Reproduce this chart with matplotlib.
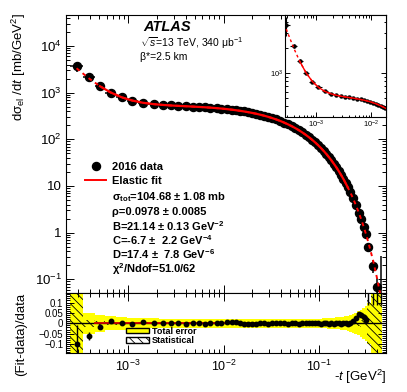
import matplotlib
matplotlib.use("Agg")
import matplotlib.pyplot as plt
import numpy as np
from matplotlib.lines import Line2D
from matplotlib.patches import Rectangle
from matplotlib.ticker import LogLocator, NullFormatter, FixedLocator, FixedFormatter, MultipleLocator

plt.rcParams["font.family"] = ["Liberation Sans", "DejaVu Sans"]
plt.rcParams["mathtext.fontset"] = "custom"
plt.rcParams["mathtext.rm"] = "Liberation Sans"
plt.rcParams["mathtext.it"] = "Liberation Sans:italic"
plt.rcParams["mathtext.bf"] = "Liberation Sans:bold"
plt.rcParams["hatch.linewidth"] = 0.6

# -t bin centres [GeV^2]
t = [2.9e-4, 3.94e-4, 5.1e-4, 6.6e-4, 8.6e-4, 1.11e-3, 1.43e-3, 1.87e-3, 2.34e-3, 2.80e-3,
     3.36e-3, 4.02e-3, 4.76e-3, 5.57e-3, 6.4e-3, 7.3e-3, 8.5e-3, 9.5e-3, 1.09e-2, 1.22e-2,
     1.34e-2, 1.48e-2, 1.63e-2, 1.8e-2, 1.97e-2, 2.19e-2, 2.41e-2, 2.65e-2, 2.9e-2, 3.2e-2,
     3.54e-2, 3.9e-2, 4.28e-2, 4.7e-2, 0.0515, 0.0562, 0.0612, 0.0665, 0.072, 0.078,
     0.084, 0.0905, 0.097, 0.104, 0.111, 0.1185, 0.126, 0.134, 0.142, 0.151,
     0.160, 0.169, 0.179, 0.189, 0.199, 0.211, 0.225, 0.240, 0.258, 0.273,
     0.291, 0.308, 0.328, 0.368, 0.405, 0.44]

# measured dsigma/dt [mb/GeV^2]
dsig = [3690, 2120, 1393, 997, 792, 677, 605, 566, 543, 531,
        520, 513, 501, 493, 486, 477, 464, 456, 441, 429,
        419, 407, 397, 383, 370, 354, 337, 321, 305, 286,
        267, 247, 229, 210, 191, 174, 157, 141, 126, 111,
        98.4, 86.0, 75.4, 65.6, 56.8, 48.7, 42.0, 35.6, 30.3, 25.2,
        20.9, 17.4, 14.2, 11.5, 9.38, 7.38, 5.49, 3.96, 2.65, 1.94,
        1.33, 0.93, 0.496, 0.195, 0.070, 0.027]

# elastic fit evaluated at the bin centres
fit = [3326, 1993, 1371, 1008, 794, 676, 607, 566, 544, 531,
       520, 511, 502, 493.5, 485, 476.6, 465, 455.5, 442.6, 431,
       420, 408, 395.7, 382, 369, 353, 337, 321, 304.7, 286.4,
       267, 248, 229, 210, 191.6, 174, 157, 140.7, 125.7, 111.2,
       98.4, 86.2, 75.5, 65.5, 56.8, 48.8, 41.9, 35.6, 30.2, 25.2,
       20.9, 17.4, 14.2, 11.5, 9.37, 7.40, 5.54, 4.05, 2.77, 2.02,
       1.37, 0.945, 0.605, 0.244, 0.101, 0.0425]

# (fit-data)/data and its error
resid = [-0.100, -0.060, -0.016, 0.011, 0.003, -0.001, 0.004, 0.000, 0.001, 0.000,
         0.001, -0.004, 0.002, 0.001, -0.001, 0.000, 0.001, 0.000, 0.004, 0.005,
         0.004, 0.002, -0.002, -0.003, -0.002, -0.003, 0.000, 0.001, -0.002, 0.001,
         0.000, 0.002, 0.000, -0.001, 0.001, 0.000, -0.002, 0.001, 0.000, 0.002,
         0.000, 0.003, 0.001, -0.001, 0.000, 0.002, -0.002, 0.000, -0.003, 0.001,
         0.000, -0.002, 0.001, 0.000, -0.001, 0.002, 0.010, 0.024, 0.045, 0.040,
         0.032, 0.016, 0.22, 0.25, 0.44, 0.57]
resid_err = [0.09, 0.02, 0.012, 0.008, 0.006, 0.005, 0.004, 0.003, 0.003, 0.003,
             0.003, 0.003, 0.003, 0.003, 0.003, 0.003, 0.003, 0.003, 0.003, 0.003,
             0.003, 0.003, 0.003, 0.003, 0.003, 0.003, 0.003, 0.003, 0.003, 0.003,
             0.003, 0.003, 0.003, 0.003, 0.003, 0.003, 0.003, 0.003, 0.003, 0.003,
             0.003, 0.003, 0.003, 0.003, 0.003, 0.003, 0.003, 0.003, 0.003, 0.003,
             0.003, 0.003, 0.003, 0.004, 0.004, 0.005, 0.006, 0.008, 0.010, 0.012,
             0.015, 0.020, 0.13, 0.16, 0.35, 0.48]

# relative total and statistical uncertainty of the data
err_total = [0.25, 0.052, 0.040, 0.034, 0.030, 0.027, 0.025, 0.024, 0.023, 0.022,
             0.022, 0.022, 0.022, 0.022, 0.022, 0.022, 0.022, 0.022, 0.022, 0.022,
             0.022, 0.022, 0.022, 0.022, 0.022, 0.022, 0.022, 0.022, 0.022, 0.022,
             0.022, 0.022, 0.022, 0.022, 0.022, 0.022, 0.022, 0.022, 0.022, 0.022,
             0.022, 0.022, 0.023, 0.023, 0.024, 0.024, 0.025, 0.026, 0.027, 0.028,
             0.029, 0.030, 0.032, 0.034, 0.036, 0.040, 0.045, 0.052, 0.058, 0.065,
             0.075, 0.085, 0.10, 0.30, 0.5, 10.7]
err_stat = [0.5, 0.016, 0.010, 0.007, 0.006, 0.005, 0.005, 0.004, 0.004, 0.004,
            0.004, 0.004, 0.004, 0.004, 0.004, 0.004, 0.004, 0.004, 0.004, 0.004,
            0.004, 0.004, 0.004, 0.004, 0.004, 0.004, 0.004, 0.004, 0.004, 0.004,
            0.004, 0.004, 0.004, 0.004, 0.004, 0.004, 0.004, 0.004, 0.004, 0.004,
            0.004, 0.004, 0.004, 0.004, 0.004, 0.004, 0.004, 0.004, 0.004, 0.004,
            0.004, 0.004, 0.004, 0.005, 0.005, 0.006, 0.007, 0.009, 0.012, 0.016,
            0.022, 0.035, 0.12, 0.30, 0.5, 0.8]

fit_range = (4.5e-4, 0.2)

fit_params = [
    "σ$_{\\mathbf{tot}}$=104.68 ± 1.08 mb",
    "ρ=0.0978 ± 0.0085",
    "B=21.14 ± 0.13 GeV$^{\\mathbf{-2}}$",
    "C=-6.7 ±  2.2 GeV$^{\\mathbf{-4}}$",
    "D=17.4 ±  7.8 GeV$^{\\mathbf{-6}}$",
    "χ$^{\\mathbf{2}}$/Ndof=51.0/62",
]

t = np.array(t)
dsig = np.array(dsig)
fit = np.array(fit)
resid = np.array(resid)
err_total = np.array(err_total)
err_stat = np.array(err_stat)

# bin edges (geometric mid points between centres)
mids = np.sqrt(t[:-1] * t[1:])
edges = np.concatenate([[t[0] ** 2 / mids[0]], mids, [t[-1] ** 2 / mids[-1]]])
xerr = np.vstack([t - edges[:-1], edges[1:] - t])
yerr = np.vstack([np.minimum(err_total, 0.9) * dsig, err_total * dsig])
in_fit = (t >= fit_range[0]) & (t <= fit_range[1])

W, H = 407, 392
fig = plt.figure(figsize=(W / 100, H / 100), dpi=100)
ax = fig.add_axes([66 / W, 1 - 293 / H, 320 / W, 278 / H])
axr = fig.add_axes([66 / W, 1 - 353 / H, 320 / W, 60 / H], sharex=ax)
axi = fig.add_axes([285 / W, 1 - 117 / H, 101 / W, 102 / H])


def root_ticks(a, size, major=6, minor=3):
    a.tick_params(which="both", direction="in", top=True, right=True, width=0.7,
                  labelsize=size, colors="black")
    a.tick_params(which="major", length=major)
    a.tick_params(which="minor", length=minor)
    for s in a.spines.values():
        s.set_linewidth(0.8)


# ---- main panel
ax.plot(t, fit, color="red", lw=1.4, ls=(0, (2, 2)), zorder=3)
ax.plot(t[in_fit], fit[in_fit], color="red", lw=1.6, zorder=3)
ax.errorbar(t, dsig, yerr=yerr, xerr=xerr, fmt="o", color="black", ms=5.8,
            elinewidth=1.1, capsize=0, zorder=2)
ax.set_xscale("log")
ax.set_yscale("log")
ax.set_xlim(2.25e-4, 0.5)
ax.set_ylim(0.051, 4.6e4)
ax.yaxis.set_major_locator(FixedLocator([0.1, 1, 10, 100, 1e3, 1e4]))
ax.yaxis.set_major_formatter(FixedFormatter(["$10^{-1}$", "1", "10", "$10^{2}$", "$10^{3}$", "$10^{4}$"]))
ax.yaxis.set_minor_locator(LogLocator(subs=np.arange(2, 10), numticks=20))
ax.yaxis.set_minor_formatter(NullFormatter())
root_ticks(ax, 9.5)
ax.tick_params(axis="x", which="both", labelbottom=False)
ax.tick_params(axis="y", pad=3)
ax.set_ylabel("dσ$_{\\rm el}$ /d$t$ [mb/GeV$^{2}$]", fontsize=9.5, loc="top")
ax.yaxis.set_label_coords(-0.12, 1.007)

ax.text(0.241, 0.957, "ATLAS", transform=ax.transAxes, fontsize=10.5,
        fontweight="bold", fontstyle="italic", va="center")
ax.text(0.232, 0.899, "$\\sqrt{s}$=13 TeV, 340 μb$^{-1}$", transform=ax.transAxes,
        fontsize=7.5, va="center")
ax.text(0.232, 0.849, "β*=2.5 km", transform=ax.transAxes, fontsize=7.5, va="center")

h_data = Line2D([], [], marker="o", ls="none", color="black", ms=5.8)
h_fit = Line2D([], [], color="red", lw=1.4)
ax.legend([h_data, h_fit], ["2016 data", "Elastic fit"], loc="upper left",
          bbox_to_anchor=(0.06, 0.47), frameon=False, borderpad=0, borderaxespad=0,
          handlelength=1.9, handletextpad=0.5, labelspacing=0.3,
          prop={"size": 8, "weight": "bold"})
for i, s in enumerate(fit_params):
    ax.text(0.143, 0.344 - i * 0.0514, s, transform=ax.transAxes, fontsize=8,
            fontweight="bold", va="center")

# ---- inset
axi.plot(t, fit, color="red", lw=1.0, ls=(0, (2, 2)), zorder=3)
axi.plot(t[in_fit], fit[in_fit], color="red", lw=1.0, zorder=3)
axi.errorbar(t, dsig, yerr=yerr, xerr=xerr, fmt="o", color="black", ms=2.2,
             elinewidth=0.8, capsize=0, zorder=2)
axi.set_xscale("log")
axi.set_yscale("log")
axi.set_xlim(2.75e-4, 0.0185)
axi.set_ylim(300, 4900)
root_ticks(axi, 5.5, major=3.5, minor=1.8)
axi.tick_params(pad=1.5)

# ---- ratio panel
axr.stairs(err_total, edges, baseline=-err_total, fill=True, color="#ffff00", lw=0, zorder=1)
axr.stairs(err_stat, edges, baseline=-err_stat, fill=True, facecolor="none",
           edgecolor="black", hatch="\\\\\\\\", lw=0, zorder=1.5)
axr.axhline(0, color="black", lw=1.0, zorder=2)
axr.plot(fit_range, [0, 0], color="#cc0000", lw=1.3, zorder=2.5)
axr.errorbar(t, resid, yerr=resid_err, fmt="o", color="black", ms=3.2,
             elinewidth=1.0, capsize=0, zorder=3)
axr.set_ylim(-0.143, 0.146)
axr.yaxis.set_major_locator(FixedLocator([-0.1, -0.05, 0, 0.05, 0.1]))
axr.yaxis.set_major_formatter(FixedFormatter(["−0.1", "−0.05", "0", "0.05", "0.1"]))
axr.yaxis.set_minor_locator(MultipleLocator(0.01))
root_ticks(axr, 7.5, major=6, minor=3)
axr.tick_params(axis="y", labelsize=7, pad=2)
axr.tick_params(axis="x", labelsize=9, pad=4)
axr.set_ylabel("(Fit-data)/data", fontsize=9.5, loc="top")
axr.yaxis.set_label_coords(-0.12, 1.0)
axr.set_xlabel("-$t$ [GeV$^{2}$]", fontsize=9.5, loc="right")
axr.xaxis.set_label_coords(1.0, -0.25)

h_tot = Rectangle((0, 0), 1, 1, facecolor="#ffff00", edgecolor="black", lw=1.0)
h_stat = Rectangle((0, 0), 1, 1, facecolor="white", edgecolor="black", lw=1.0, hatch="\\\\\\\\")
axr.legend([h_tot, h_stat], ["Total error", "Statistical"], loc="lower left",
           bbox_to_anchor=(0.1875, 0.13), frameon=False, borderpad=0, borderaxespad=0,
           handlelength=2.5, handleheight=0.55, handletextpad=0.4, labelspacing=0.05,
           prop={"size": 6.5, "weight": "bold"})

fig.savefig("out.png", dpi=100)
